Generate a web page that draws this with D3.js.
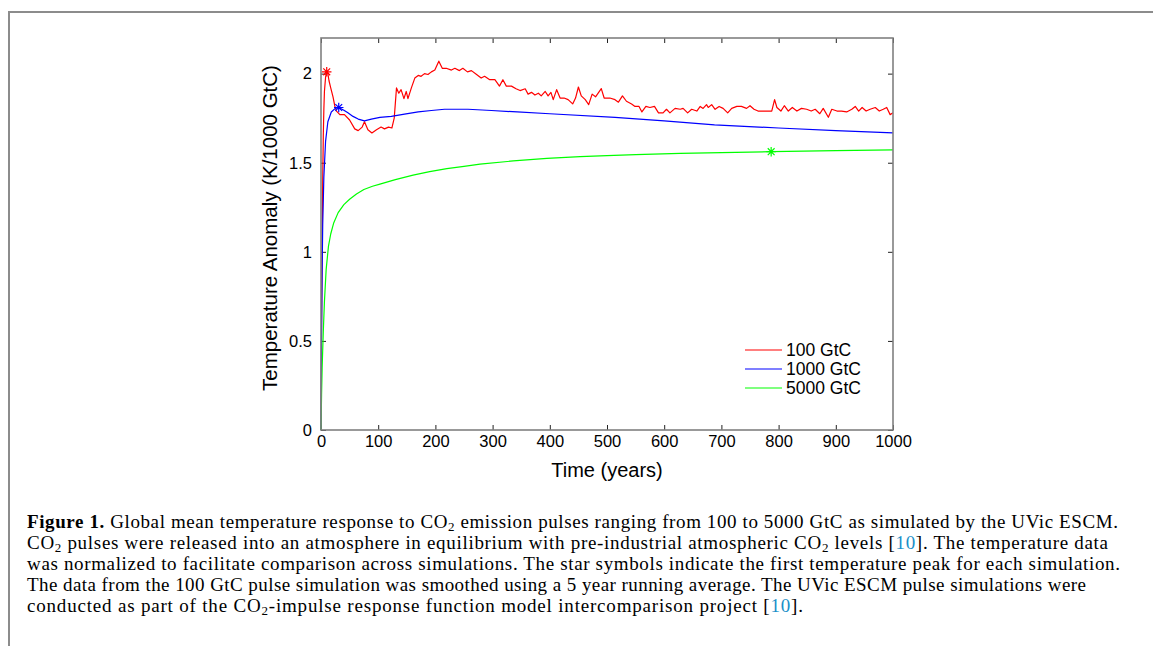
<!DOCTYPE html>
<html>
<head>
<meta charset="utf-8">
<script src="https://cdn.jsdelivr.net/npm/d3@7"></script>
<style>
  body { margin: 0; background: #fff; }
  svg { display: block; }
  .tick text { font-family: "Liberation Sans", Arial, sans-serif; font-size: 16.5px; fill: #000; }
  .tick line { stroke: #222; }
</style>
</head>
<body>
<script>
const width = 1153;
const height = 646;

// 100 GtC pulse, 5 year running mean: [year, K/1000 GtC]
const pulse100 = [
  [0, 0], [1, 0.6], [2, 1.05], [3, 1.4], [4, 1.65], [5, 1.8], [6, 1.9], [8, 1.98], [10, 2.01],
  [12, 2.0], [14, 1.96], [17, 1.92], [21, 1.87], [24, 1.82], [27, 1.79], [33, 1.77], [41, 1.77],
  [50, 1.74], [59, 1.69], [65, 1.68], [72, 1.70], [76, 1.73], [82, 1.685], [89, 1.667], [97, 1.685],
  [105, 1.70], [111, 1.69], [118, 1.70], [124, 1.695], [128, 1.75], [132, 1.92], [136, 1.89],
  [140, 1.91], [145, 1.86], [149, 1.90], [152, 1.86], [158, 1.92], [164, 1.975], [170, 1.99],
  [175, 1.985], [181, 2.0], [187, 1.995], [193, 2.01], [199, 2.02], [206, 2.07], [212, 2.03],
  [219, 2.03], [228, 2.02], [234, 2.03], [242, 2.017], [248, 2.03], [256, 2.01], [263, 2.017],
  [272, 1.995], [280, 1.975], [286, 1.985], [295, 1.966], [304, 1.966], [312, 1.93], [318, 1.966],
  [324, 1.93], [333, 1.93], [341, 1.915], [348, 1.905], [357, 1.915], [362, 1.885], [368, 1.895],
  [374, 1.88], [380, 1.89], [385, 1.875], [392, 1.90], [397, 1.875], [402, 1.895], [406, 1.854],
  [412, 1.91], [418, 1.863], [425, 1.863], [432, 1.854], [440, 1.83], [445, 1.863], [450, 1.925],
  [455, 1.875], [462, 1.854], [468, 1.826], [474, 1.885], [480, 1.87], [490, 1.916], [495, 1.863],
  [505, 1.863], [514, 1.854], [520, 1.84], [527, 1.875], [534, 1.845], [543, 1.83], [549, 1.816],
  [556, 1.816], [561, 1.785], [568, 1.816], [575, 1.81], [583, 1.816], [590, 1.78], [598, 1.78],
  [604, 1.80], [610, 1.78], [619, 1.805], [628, 1.80], [633, 1.805], [641, 1.78], [648, 1.80],
  [657, 1.79], [663, 1.816], [668, 1.805], [674, 1.826], [677, 1.81], [683, 1.826], [689, 1.80],
  [696, 1.816], [703, 1.805], [711, 1.78], [718, 1.805], [727, 1.816], [735, 1.816], [744, 1.805],
  [750, 1.82], [757, 1.80], [764, 1.79], [773, 1.79], [782, 1.79], [788, 1.79], [793, 1.854],
  [797, 1.81], [804, 1.79], [810, 1.82], [817, 1.79], [824, 1.81], [832, 1.79], [840, 1.805],
  [849, 1.80], [857, 1.79], [864, 1.80], [872, 1.775], [878, 1.805], [887, 1.755], [893, 1.80],
  [902, 1.79], [910, 1.79], [919, 1.785], [928, 1.80], [934, 1.816], [940, 1.79], [946, 1.81],
  [953, 1.79], [960, 1.80], [969, 1.81], [976, 1.79], [983, 1.80], [989, 1.81], [995, 1.77], [1000, 1.78]
];

const pulse1000 = [
  [0, 0], [1, 0.55], [2, 0.9], [3, 1.15], [5, 1.42], [8, 1.62], [12, 1.73], [18, 1.785], [25, 1.805],
  [31, 1.81], [40, 1.795], [47, 1.78], [56, 1.76], [65, 1.745], [76, 1.735], [88, 1.745], [103, 1.755],
  [123, 1.76], [146, 1.773], [170, 1.785], [193, 1.793], [216, 1.80], [257, 1.80], [298, 1.793],
  [343, 1.785], [400, 1.775], [514, 1.755], [600, 1.735], [688, 1.712], [800, 1.695], [900, 1.68],
  [1000, 1.668]
];

const pulse5000 = [
  [0, 0], [1, 0.2], [2, 0.35], [4, 0.55], [6, 0.72], [9, 0.9], [13, 1.03], [17, 1.1], [22, 1.16],
  [30, 1.22], [40, 1.265], [50, 1.295], [62, 1.325], [75, 1.35], [90, 1.368], [103, 1.38],
  [130, 1.405], [161, 1.43], [190, 1.45], [220, 1.467], [250, 1.48], [278, 1.492], [336, 1.51],
  [395, 1.524], [453, 1.534], [500, 1.54], [550, 1.546], [628, 1.552], [700, 1.557], [787, 1.562],
  [900, 1.568], [1000, 1.572]
];

// first peak of each run (star markers)
const peaks = [[10, 2.01], [31, 1.81], [787, 1.562]];

const seriesNames = ["100 GtC", "1000 GtC", "5000 GtC"];
const seriesColors = ["#ff0000", "#0000ff", "#00ff00"];
const xTicks = [0, 100, 200, 300, 400, 500, 600, 700, 800, 900, 1000];
const yTicks = [0, 0.5, 1, 1.5, 2];

const captionLines = [
  [["Figure 1.", "b"], [" Global mean temperature response to CO"], ["2", "sub"], [" emission pulses ranging from 100 to 5000 GtC as simulated by the UVic ESCM."]],
  [["CO"], ["2", "sub"], [" pulses were released into an atmosphere in equilibrium with pre-industrial atmospheric CO"], ["2", "sub"], [" levels ["], ["10", "ref"], ["]. The temperature data"]],
  [["was normalized to facilitate comparison across simulations. The star symbols indicate the first temperature peak for each simulation."]],
  [["The data from the 100 GtC pulse simulation was smoothed using a 5 year running average. The UVic ESCM pulse simulations were"]],
  [["conducted as part of the CO"], ["2", "sub"], ["-impulse response function model intercomparison project ["], ["10", "ref"], ["]."]]
];
const captionWidths = [1091, 1081, 1093, 1059, 776];

const svg = d3.select("body").append("svg")
    .attr("width", width)
    .attr("height", height);

// page frame
svg.append("path")
    .attr("d", `M9,${height} V12 H${width}`)
    .attr("fill", "none")
    .attr("stroke", "#8c8c8c")
    .attr("stroke-width", 2);

const x = d3.scaleLinear().domain([0, 1000]).range([321, 893]);
const y = d3.scaleLinear().domain([0, 2.2]).range([430, 38]);
const fmt = d => String(d);

// axes with inward ticks on all four sides
svg.append("g")
    .attr("transform", `translate(0,${y(0)})`)
    .call(d3.axisBottom(x).tickValues(xTicks).tickFormat(fmt).tickSizeInner(-5).tickSizeOuter(0).tickPadding(5))
    .call(g => g.select(".domain").remove());

svg.append("g")
    .attr("transform", `translate(0,${y(2.2)})`)
    .call(d3.axisTop(x).tickValues(xTicks).tickSizeInner(-5).tickSizeOuter(0).tickFormat(""))
    .call(g => g.select(".domain").remove());

svg.append("g")
    .attr("transform", `translate(${x(0)},0)`)
    .call(d3.axisLeft(y).tickValues(yTicks).tickFormat(fmt).tickSizeInner(-5).tickSizeOuter(0).tickPadding(9))
    .call(g => g.select(".domain").remove());

svg.append("g")
    .attr("transform", `translate(${x(1000)},0)`)
    .call(d3.axisRight(y).tickValues(yTicks).tickSizeInner(-5).tickSizeOuter(0).tickFormat(""))
    .call(g => g.select(".domain").remove());

const line = d3.line()
    .x(d => x(d[0]))
    .y(d => y(d[1]));

[pulse100, pulse1000, pulse5000].forEach((s, i) => {
    svg.append("path")
        .datum(s)
        .attr("fill", "none")
        .attr("stroke", seriesColors[i])
        .attr("stroke-width", 1.2)
        .attr("stroke-linejoin", "round")
        .attr("d", line);
});

// asterisk like the octave "*" marker
const star = {
    draw(ctx, size) {
        const r = Math.sqrt(size) / 2;
        const q = r * 0.72;
        ctx.moveTo(-r, 0); ctx.lineTo(r, 0);
        ctx.moveTo(0, -r); ctx.lineTo(0, r);
        ctx.moveTo(-q, -q); ctx.lineTo(q, q);
        ctx.moveTo(-q, q); ctx.lineTo(q, -q);
    }
};

svg.selectAll(".peak")
    .data(peaks)
    .enter().append("path")
    .attr("class", "peak")
    .attr("transform", d => `translate(${x(d[0])},${y(d[1])})`)
    .attr("d", d3.symbol(star, 90))
    .attr("fill", "none")
    .attr("stroke", (d, i) => seriesColors[i])
    .attr("stroke-width", 1.2);

// box
svg.append("rect")
    .attr("x", x(0))
    .attr("y", y(2.2))
    .attr("width", x(1000) - x(0))
    .attr("height", y(0) - y(2.2))
    .attr("fill", "none")
    .attr("stroke", "#808080")
    .attr("stroke-width", 1.6);

// axis labels
svg.append("text")
    .attr("x", (x(0) + x(1000)) / 2)
    .attr("y", 477)
    .attr("text-anchor", "middle")
    .style("font-family", "Liberation Sans, Arial, sans-serif")
    .style("font-size", "20px")
    .text("Time (years)");

svg.append("text")
    .attr("transform", `translate(277,228) rotate(-90)`)
    .attr("text-anchor", "middle")
    .style("font-family", "Liberation Sans, Arial, sans-serif")
    .style("font-size", "20.5px")
    .text("Temperature Anomaly (K/1000 GtC)");

// legend
const legend = svg.append("g").attr("transform", "translate(745,350)");
seriesNames.forEach((name, i) => {
    const row = legend.append("g").attr("transform", `translate(0,${i * 19})`);
    row.append("line")
        .attr("x1", 0).attr("x2", 37)
        .attr("stroke", seriesColors[i])
        .attr("stroke-width", 1.2);
    row.append("text")
        .attr("x", 41)
        .attr("dy", "0.35em")
        .style("font-family", "Liberation Sans, Arial, sans-serif")
        .style("font-size", "17.5px")
        .text(name);
});

// caption
const caption = svg.append("g")
    .style("font-family", "Liberation Serif, Times New Roman, serif")
    .style("font-size", "19px");

captionLines.forEach((segs, i) => {
    const t = caption.append("text")
        .attr("x", 27)
        .attr("y", 528 + i * 21)
        .attr("textLength", captionWidths[i])
        .attr("lengthAdjust", "spacing");
    let down = false;
    segs.forEach(([s, kind]) => {
        const sp = t.append("tspan").text(s);
        if (kind === "b") sp.style("font-weight", "bold");
        if (kind === "ref") sp.attr("fill", "#1a8fc9");
        if (kind === "sub") {
            sp.attr("dy", 3).style("font-size", "13px");
            down = true;
        } else if (down) {
            sp.attr("dy", -3);
            down = false;
        }
    });
});
</script>
</body>
</html>
